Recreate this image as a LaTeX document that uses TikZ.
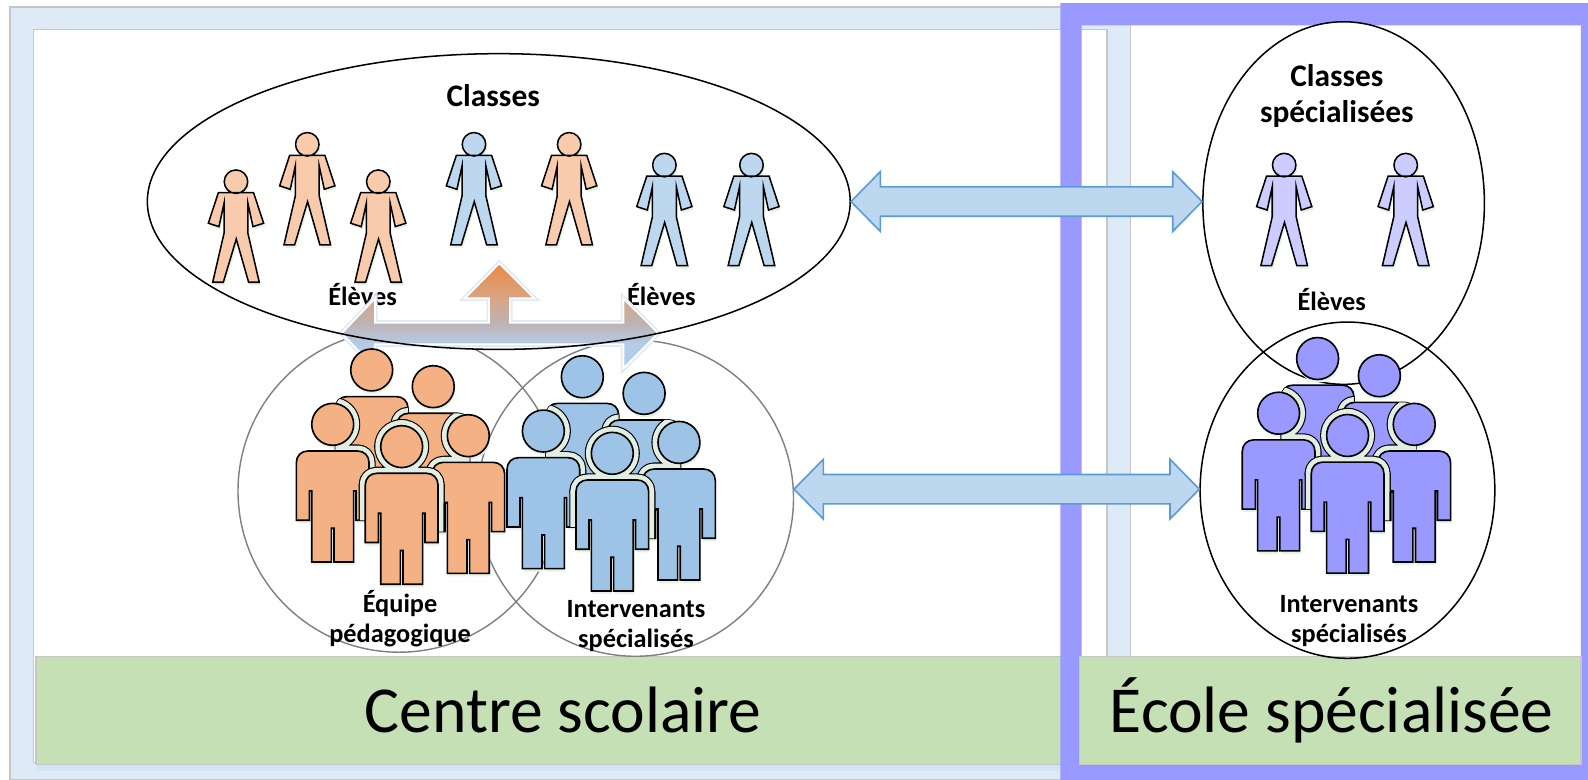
\documentclass[tikz,border=0pt]{standalone}
\usepackage{fontspec}
\setmainfont{Carlito}
\usetikzlibrary{shapes.geometric,calc}
\definecolor{bandblue}{HTML}{DEEAF6}
\definecolor{edgegray}{HTML}{C6C6C6}
\definecolor{frameviolet}{HTML}{9999FF}
\definecolor{boxgreen}{HTML}{C5E0B4}
\definecolor{arrowfill}{HTML}{BDD7EE}
\definecolor{arrowline}{HTML}{5B9BD5}
\definecolor{halo}{HTML}{E2EEE2}
\definecolor{glow}{HTML}{E4F3E4}
\definecolor{lorange}{HTML}{F8CBAD}
\definecolor{lblue}{HTML}{BDD7EE}
\definecolor{lviolet}{HTML}{CCCCFF}
\definecolor{dorange}{HTML}{F4B183}
\definecolor{dblue}{HTML}{9DC3E6}
\definecolor{dviolet}{HTML}{9999FF}
\definecolor{shadea}{HTML}{EA8A45}
\definecolor{shadeb}{HTML}{D8A583}
\definecolor{shadec}{HTML}{BDB3B5}
\definecolor{shaded}{HTML}{B5CCE6}
\definecolor{shadee}{HTML}{A8CDEF}
\pgfdeclareverticalshading{tarrowshade}{100bp}{color(0bp)=(shadee); color(25bp)=(shadee); color(36.5bp)=(shaded); color(46.2bp)=(shadec); color(58.2bp)=(shadeb); color(75bp)=(shadea); color(100bp)=(shadea)}
\newcommand{\smallbody}{(-17.4,10.9) -- (-27.3,41) -- (-16.8,44.4) -- (-11.8,21.4) -- (-11.8,51) -- (-23,99.3) -- (-12.5,99.3) -- (0.3,56.6) -- (12.5,99.3) -- (23,99.3) -- (11.8,51) -- (11.8,21.4) -- (16.8,44.4) -- (27.3,41) -- (17.4,10.9) -- cycle (0,0) circle (11.6)}
\newcommand{\bigbody}{(-35.9,94.7) -- (-35.9,37.8) .. controls (-35.9,31) and (-31,26.3) .. (-24.4,26.3) -- (24.4,26.3) .. controls (31,26.3) and (35.9,31) .. (35.9,37.8) -- (35.9,94.7) -- (23,94.7) -- (23,65.8) -- (20.7,65.8) -- (20.7,135.9) -- (1.3,135.9) -- (1.3,102.6) -- (-1.3,102.6) -- (-1.3,135.9) -- (-20.7,135.9) -- (-20.7,65.8) -- (-23,65.8) -- (-23,94.7) -- cycle (0,0) circle (20.7)}
\newcommand{\backbody}{(-35.9,115) -- (-35.9,37.8) .. controls (-35.9,31) and (-31,26.3) .. (-24.4,26.3) -- (24.4,26.3) .. controls (31,26.3) and (35.9,31) .. (35.9,37.8) -- (35.9,115) -- cycle (0,0) circle (20.7)}
\newcommand{\tarrowpath}{(493,260) -- (527.5,294.6) -- (503.6,294.6) -- (503.6,318.6) -- (615.5,318.6) -- (615.5,294.6) -- (650,329) -- (615.5,363.7) -- (615.5,340) -- (370.3,340) -- (370.3,363.7) -- (337.4,329) -- (370.3,294.6) -- (370.3,318.6) -- (482.9,318.6) -- (482.9,294.6) -- (459,294.6) -- cycle}
\newcommand{\dblarrow}[2]{%
  \draw[blockarrow] let \p1=(#1), \p2=(#2) in
    (\x1,\y1) -- (\x1+14.5pt,\y1+14.75pt) -- (\x1+14.5pt,\y1+7.25pt)
    -- (\x2-14.5pt,\y1+7.25pt) -- (\x2-14.5pt,\y1+14.75pt) -- (\x2,\y1)
    -- (\x2-14.5pt,\y1-14.75pt) -- (\x2-14.5pt,\y1-7.25pt)
    -- (\x1+14.5pt,\y1-7.25pt) -- (\x1+14.5pt,\y1-14.75pt) -- cycle;}
% halo of a person at #1 (outline #3), only where it falls on an earlier person at #2 (outline #4)
\newcommand{\haloon}[4]{\begin{scope}\clip[shift={(#2)}] #4; \draw[black,line width=6.5pt,line join=round,shift={(#1)}] #3; \end{scope}}
\newcommand{\halotop}[4]{\begin{scope}\clip[shift={(#2)}] #4; \draw[halo,line width=5.4pt,line join=round,shift={(#1)}] #3; \end{scope}}
\newcommand{\glowof}[1]{\fill[glow,shift={(#1)},shift={(1,3)}] \bigbody;}
\newcommand{\person}[3]{\filldraw[fill=#1,draw=black,line width=0.8pt,line join=miter,shift={(#2)}] #3;}
\newcommand{\crowd}[6]{%
  \glowof{#4}\glowof{#5}\glowof{#6}
  \fill[glow,shift={(#2)},shift={(1,3)}] (0,0) circle (20.7);
  \fill[glow,shift={(#3)},shift={(1,3)}] (0,0) circle (20.7);
  \person{#1}{#2}{\backbody}
  \haloon{#3}{#2}{\backbody}{\backbody}\halotop{#3}{#2}{\backbody}{\backbody}\person{#1}{#3}{\backbody}
  \haloon{#4}{#2}{\bigbody}{\backbody}\haloon{#4}{#3}{\bigbody}{\backbody}\halotop{#4}{#2}{\bigbody}{\backbody}\halotop{#4}{#3}{\bigbody}{\backbody}\person{#1}{#4}{\bigbody}
  \haloon{#5}{#2}{\bigbody}{\backbody}\haloon{#5}{#3}{\bigbody}{\backbody}\haloon{#5}{#4}{\bigbody}{\bigbody}\halotop{#5}{#2}{\bigbody}{\backbody}\halotop{#5}{#3}{\bigbody}{\backbody}\halotop{#5}{#4}{\bigbody}{\bigbody}\person{#1}{#5}{\bigbody}
  \haloon{#6}{#2}{\bigbody}{\backbody}\haloon{#6}{#3}{\bigbody}{\backbody}\haloon{#6}{#4}{\bigbody}{\bigbody}\haloon{#6}{#5}{\bigbody}{\bigbody}\halotop{#6}{#2}{\bigbody}{\backbody}\halotop{#6}{#3}{\bigbody}{\backbody}\halotop{#6}{#4}{\bigbody}{\bigbody}\halotop{#6}{#5}{\bigbody}{\bigbody}\person{#1}{#6}{\bigbody}}
\tikzset{
  smallperson/.pic={
    \fill[glow] [shift={(1.5,3)}] \smallbody;
    \filldraw[fill=#1,draw=black,line width=0.75pt,line join=miter] \smallbody;
  },
  blockarrow/.style={fill=arrowfill,draw=arrowline,line width=0.8pt,line join=miter},
  gathering/.style={draw=black,line width=0.75pt,ellipse,inner sep=0pt},
  overlapcircle/.style={draw=black!50,line width=0.7pt,circle,inner sep=0pt},
  smalllabel/.style={font=\fontsize{13}{13}\selectfont\bfseries,inner sep=0pt,anchor=center},
  titlelabel/.style={font=\fontsize{15.5}{15.5}\selectfont\bfseries,inner sep=0pt,anchor=center},
  biglabel/.style={font=\fontsize{32.4}{32.4}\selectfont,inner sep=0pt,anchor=center},
}
\begin{document}
\begin{tikzpicture}[x=0.5pt,y=-0.5pt]
\useasboundingbox (0,0) rectangle (1568,770);
% frames
\filldraw[fill=bandblue,draw=edgegray,line width=0.7pt] (10,7) rectangle (1116,770);
\filldraw[fill=white,draw=edgegray,line width=0.7pt] (33,29) rectangle (1093,753);
\fill[arrowfill,opacity=0.35] (37,755) rectangle (1047,758);
\fill[arrowfill,opacity=0.25] (37,758) rectangle (1047,761);
\filldraw[fill=boxgreen,draw=edgegray,line width=0.7pt] (35.5,648) rectangle (1050,755);
\fill[frameviolet,even odd rule] (1047,3) rectangle (1568,770) (1068,25) rectangle (1561,755);
\filldraw[fill=boxgreen,draw=edgegray,line width=0.7pt] (1066,648) rectangle (1561,755);
% circles
\node[overlapcircle,minimum size=159pt] (equipe) at (394,485) {};
\node[overlapcircle,minimum size=156pt] (interv) at (627.5,492) {};
\node[gathering,draw=none,fill=white,minimum width=347pt,minimum height=146pt] (classes) at (492.5,199) {};
\node[gathering,minimum width=139pt,minimum height=179pt,fill=white] (specclasses) at (1326.7,200.5) {};
\node[gathering,minimum width=145.5pt,minimum height=166pt] (specinterv) at (1330.5,484) {};
% labels under the arrow
\node[titlelabel] (tclasses) at (487,94) {Classes};
\node[smalllabel] (elevesa) at (358,291) {Élèves};
\node[smalllabel] (elevesb) at (653,291) {Élèves};
% three-way arrow
\path[draw=bandblue,line width=2.5pt,line join=miter] \tarrowpath;
\shade[shading=tarrowshade,draw=white,line width=0.9pt,line join=miter] \tarrowpath;
\draw[black,line width=0.75pt] (classes.center) ellipse [x radius=173.5pt,y radius=73pt];
% block arrows
\dblarrow{classes.east}{specclasses.west}
\coordinate (arrowlefttip) at (784,483);
\dblarrow{arrowlefttip}{specinterv.west}
% small persons
\pic at (233,179.4) {smallperson=lorange};
\pic at (303.4,142.5) {smallperson=lorange};
\pic at (373.5,179.4) {smallperson=lorange};
\pic at (468,142.5) {smallperson=lblue};
\pic at (562,142.5) {smallperson=lorange};
\pic at (656,163) {smallperson=lblue};
\pic at (742,163) {smallperson=lblue};
\pic at (1268,163) {smallperson=lviolet};
\pic at (1388,163) {smallperson=lviolet};
% groups
\crowd{dorange}{367,365.3}{427.8,381.8}{328.5,419}{462.4,430.2}{396.6,441}
\crowd{dblue}{575,372}{636,388.4}{536.5,425.6}{670.4,436.8}{604.6,447.6}
\crowd{dviolet}{1301,354}{1362,371}{1262.5,408}{1396.4,419}{1330.6,430}
% labels
\node[titlelabel] (tspeca) at (1320,75) {Classes};
\node[titlelabel] (tspecb) at (1320,113) {spécialisées};
\node[smalllabel] (elevesc) at (1315,296) {Élèves};
\node[smalllabel] (equipea) at (395,596) {Équipe};
\node[smalllabel] (equipeb) at (395,627) {pédagogique};
\node[smalllabel] (interva) at (628,601) {Intervenants};
\node[smalllabel] (intervb) at (628,632) {spécialisés};
\node[smalllabel] (intervc) at (1332,596) {Intervenants};
\node[smalllabel] (intervd) at (1332,627) {spécialisés};
\node[biglabel] (centre) at (556,701) {Centre scolaire};
\node[biglabel] (ecole) at (1315,701) {École spécialisée};
\end{tikzpicture}
\end{document}
